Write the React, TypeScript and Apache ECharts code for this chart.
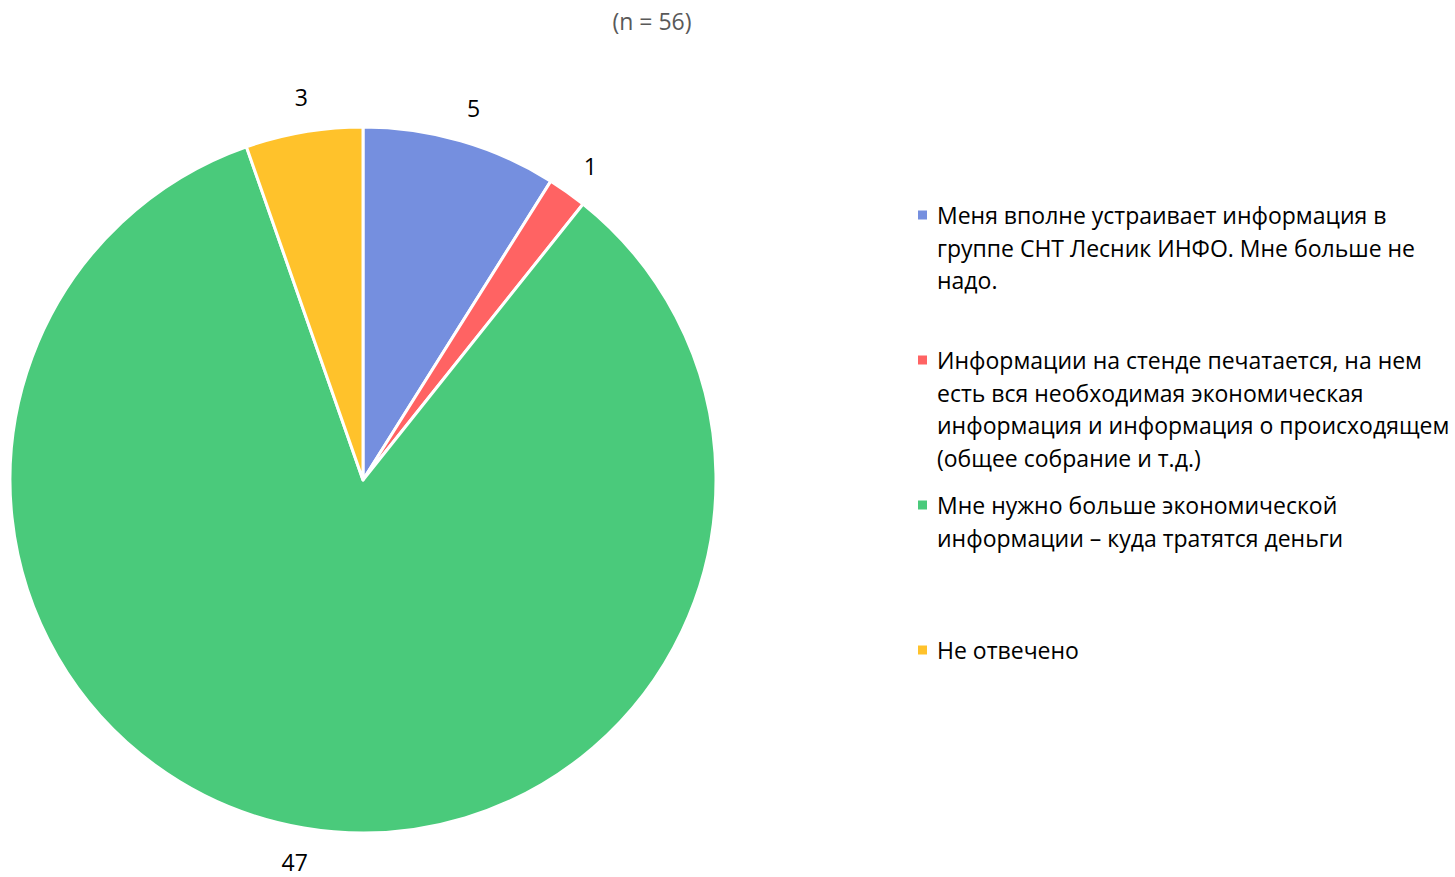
import React, { useEffect, useRef } from "react";
import * as echarts from "echarts";

const titleText = "(n = 56)";
const categories = [
  "Меня вполне устраивает информация в группе СНТ Лесник ИНФО. Мне больше не надо.",
  "Информации на стенде печатается, на нем есть вся необходимая экономическая информация и информация о происходящем (общее собрание и т.д.)",
  "Мне нужно больше экономической информации – куда тратятся деньги",
  "Не отвечено",
];
const legendLines = [
  ["Меня вполне устраивает информация в", "группе СНТ Лесник ИНФО. Мне больше не", "надо."],
  ["Информации на стенде печатается, на нем", "есть вся необходимая экономическая", "информация и информация о происходящем", "(общее собрание и т.д.)"],
  ["Мне нужно больше экономической", "информации – куда тратятся деньги"],
  ["Не отвечено"],
];
const values = [5, 1, 47, 3];
const colors = ["#758fdf", "#ff6363", "#4aca7b", "#ffc22b"];

const FONT = "'Open Sans', 'Noto Sans', sans-serif";
const LH = 32.5;
const firstLineY = [215, 360, 505, 650];

export default function App() {
  const ref = useRef<HTMLDivElement>(null);
  useEffect(() => {
    if (!ref.current) return;
    const chart = echarts.init(ref.current, undefined, { renderer: "svg" });
    const data = categories.map((name, i) => ({ name, value: values[i], itemStyle: { color: colors[i] } }));
    chart.setOption({
      animation: false,
      title: {
        text: titleText,
        left: 647,
        textAlign: "center",
        top: 4,
        textStyle: { fontFamily: FONT, fontSize: 23, fontWeight: "normal", color: "#595959" },
      },
      legend: categories.map((name, i) => {
        const n = legendLines[i].length;
        // blank lines above keep the marker level with the first line of text
        const pad = new Array(n - 1).fill("").join("\n");
        return {
          data: [name],
          orient: "vertical",
          left: 918,
          top: firstLineY[i] - (n - 1) * LH - LH / 2,
          padding: 0,
          itemWidth: 9,
          itemHeight: 9,
          icon: "rect",
          itemStyle: { borderWidth: 0 },
          selectedMode: false,
          formatter: () => (n > 1 ? pad + "\n" : "") + legendLines[i].join("\n"),
          textStyle: {
            fontFamily: FONT,
            fontSize: 23,
            lineHeight: LH,
            color: "#000",
            padding: [0, 0, 0, 5],
          },
        };
      }),
      series: [
        {
          type: "pie",
          center: [363, 480],
          radius: [0, 353],
          startAngle: 90,
          clockwise: true,
          data,
          label: { show: false },
          labelLine: { show: false },
          itemStyle: { borderColor: "#fff", borderWidth: 3 },
          emphasis: { disabled: true },
        },
        {
          type: "pie",
          center: [363, 480],
          radius: [365, 405],
          startAngle: 89.5,
          clockwise: true,
          silent: true,
          data: categories.map((name, i) => ({ name, value: values[i] })),
          itemStyle: { color: "rgba(0,0,0,0)" },
          label: {
            show: true,
            position: "inside",
            formatter: "{c}",
            fontFamily: FONT,
            fontSize: 23,
            lineHeight: 22,
            color: "#000",
          },
          labelLine: { show: false },
          emphasis: { disabled: true },
        },
      ],
    });
    return () => chart.dispose();
  }, []);
  return <div ref={ref} style={{ position: "absolute", left: 0, top: 0, width: 1455, height: 877 }} />;
}
